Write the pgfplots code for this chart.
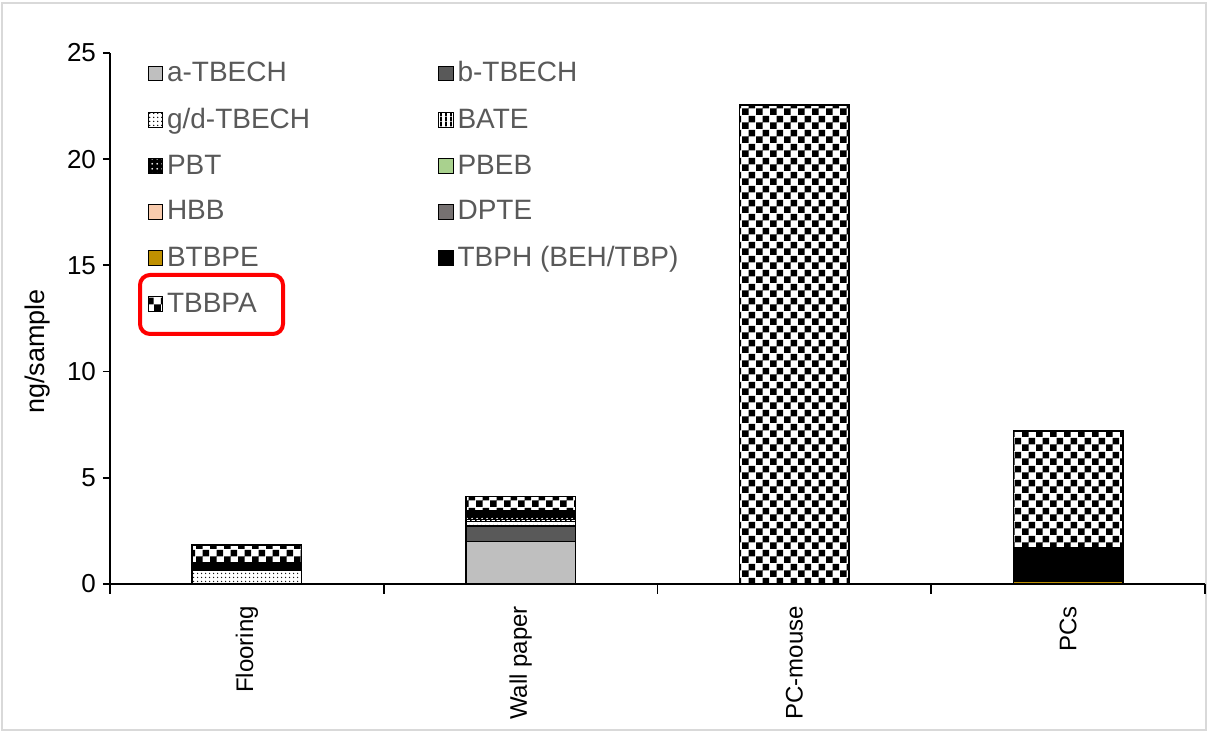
\documentclass[border=0pt]{standalone}
\usepackage{pgfplots}
\pgfplotsset{compat=1.18}
\usepackage{fontspec}
\setmainfont{Liberation Sans}
\usetikzlibrary{patterns,patterns.meta}
\definecolor{textgray}{HTML}{595959}
\definecolor{cA}{HTML}{BFBFBF}
\definecolor{cB}{HTML}{595959}
\definecolor{cPBEB}{HTML}{A9D18E}
\definecolor{cHBB}{HTML}{F8CBAD}
\definecolor{cDPTE}{HTML}{767171}
\definecolor{cBTBPE}{HTML}{BF9000}
\pgfdeclarepattern{
  name=checkbig, type=uncolored,
  bottom left={\pgfpoint{0pt}{0pt}}, top right={\pgfpoint{7pt}{7pt}},
  tile size={\pgfpoint{7pt}{7pt}},
  code={\pgfpathrectangle{\pgfpointorigin}{\pgfpoint{3.5pt}{3.5pt}}%
        \pgfpathrectangle{\pgfpoint{3.5pt}{3.5pt}}{\pgfpoint{3.5pt}{3.5pt}}%
        \pgfusepath{fill}}}
\pgfdeclarepattern{
  name=smalldots, type=uncolored,
  bottom left={\pgfpoint{0pt}{0pt}}, top right={\pgfpoint{2pt}{2pt}},
  tile size={\pgfpoint{2pt}{2pt}},
  code={\pgfpathcircle{\pgfpoint{1pt}{1pt}}{0.45pt}\pgfusepath{fill}}}
\pgfdeclarepattern{
  name=wdots, type=uncolored,
  bottom left={\pgfpoint{0pt}{0pt}}, top right={\pgfpoint{2.5pt}{2.5pt}},
  tile size={\pgfpoint{2.5pt}{2.5pt}},
  code={\pgfpathcircle{\pgfpoint{1.25pt}{1.25pt}}{0.55pt}\pgfusepath{fill}}}
\pgfdeclarepattern{
  name=vlines, type=uncolored,
  bottom left={\pgfpoint{0pt}{0pt}}, top right={\pgfpoint{2.5pt}{2.5pt}},
  tile size={\pgfpoint{2.5pt}{2.5pt}},
  code={\pgfpathrectangle{\pgfpointorigin}{\pgfpoint{1pt}{2.5pt}}\pgfusepath{fill}}}
\begin{document}
\begin{tikzpicture}
\useasboundingbox (0,0) rectangle (605.5pt,365.5pt);
\draw[gray!30, line width=1pt] (1pt,0.5pt) rectangle (603pt,364pt);
\begin{axis}[
  at={(55pt,73.5pt)}, anchor=south west,
  scale only axis, width=547.5pt, height=265.5pt,
  ybar stacked, bar width=0.4,
  xmin=-0.5, xmax=3.5, ymin=0, ymax=25,
  axis lines*=left, axis line style={black, line width=0.9pt, -},
  tick align=outside,
  xtick={0,1,2,3}, xticklabels={Flooring,Wall paper,PC-mouse,PCs},
  x tick label style={rotate=90, anchor=east, font=\fontsize{12}{14}\selectfont},
  xticklabel shift=4pt,
  major x tick style={draw=none},
  minor xtick={-0.5,0.5,1.5,2.5,3.5},
  minor x tick style={black, line width=0.9pt},
  minor tick length=5pt,
  ytick={0,5,10,15,20,25},
  major y tick style={black, line width=0.9pt},
  major tick length=3.5pt,
  y tick label style={font=\fontsize{13}{15}\selectfont},
  /pgf/number format/assume math mode=true,
  every axis y label/.style={at={(axis description cs:-0.048,0.438)}, anchor=south, rotate=90, font=\fontsize{13.5}{15}\selectfont},
  ylabel={ng/sample},
  legend columns=2,
  legend cell align=left,
  legend style={at={(axis description cs:0.034,0.992)}, anchor=north west, draw=none, fill=none,
    font=\fontsize{14}{16}\selectfont, text=textgray, inner sep=0pt, row sep=7.7pt,
    nodes={inner sep=2pt},
    /tikz/every even column/.append style={column sep=62pt}},
  every axis plot post/.append style={line width=0.8pt},
  legend image code/.code={\draw[#1,line width=0.5pt] (1pt,-3.6pt) rectangle (8.2pt,3.6pt);},
]
\addplot[fill=cA, draw=black] coordinates {(0,0) (1,2.0) (2,0) (3,0)};
\addlegendentry{a-TBECH}
\addplot[fill=cB, draw=black] coordinates {(0,0) (1,0.72) (2,0) (3,0)};
\addlegendentry{b-TBECH}
\addplot[fill=white, draw=black, postaction={pattern=smalldots, pattern color=black}] coordinates {(0,0.63) (1,0.22) (2,0) (3,0)};
\addlegendentry{g/d-TBECH}
\addplot[fill=white, draw=black, postaction={pattern=vlines, pattern color=black}] coordinates {(0,0) (1,0.1) (2,0) (3,0)};
\addlegendentry{BATE}
\addplot[fill=black, draw=black, postaction={pattern=wdots, pattern color=white}] coordinates {(0,0) (1,0.2) (2,0) (3,0)};
\addlegendentry{PBT}
\addplot[fill=cPBEB, draw=black] coordinates {(0,0) (1,0.1) (2,0) (3,0)};
\addlegendentry{PBEB}
\addplot[fill=cHBB, draw=black] coordinates {(0,0) (1,0.1) (2,0) (3,0)};
\addlegendentry{HBB}
\addplot[fill=cDPTE, draw=none] coordinates {(0,0) (1,0) (2,0) (3,0)};
\addlegendentry{DPTE}
\addplot[fill=cBTBPE, draw=black] coordinates {(0,0) (1,0) (2,0) (3,0.12)};
\addlegendentry{BTBPE}
\addplot[fill=black, draw=black] coordinates {(0,0.36) (1,0) (2,0) (3,1.58)};
\addlegendentry{TBPH (BEH/TBP)}
\addplot[fill=white, draw=black, postaction={pattern=checkbig, pattern color=black}] coordinates {(0,0.85) (1,0.68) (2,22.55) (3,5.5)};
\addlegendentry{TBBPA}
\end{axis}
\draw[red, line width=2pt, rounded corners=5pt] (70pt,198.5pt) rectangle (141.5pt,228pt);
\end{tikzpicture}
\end{document}
